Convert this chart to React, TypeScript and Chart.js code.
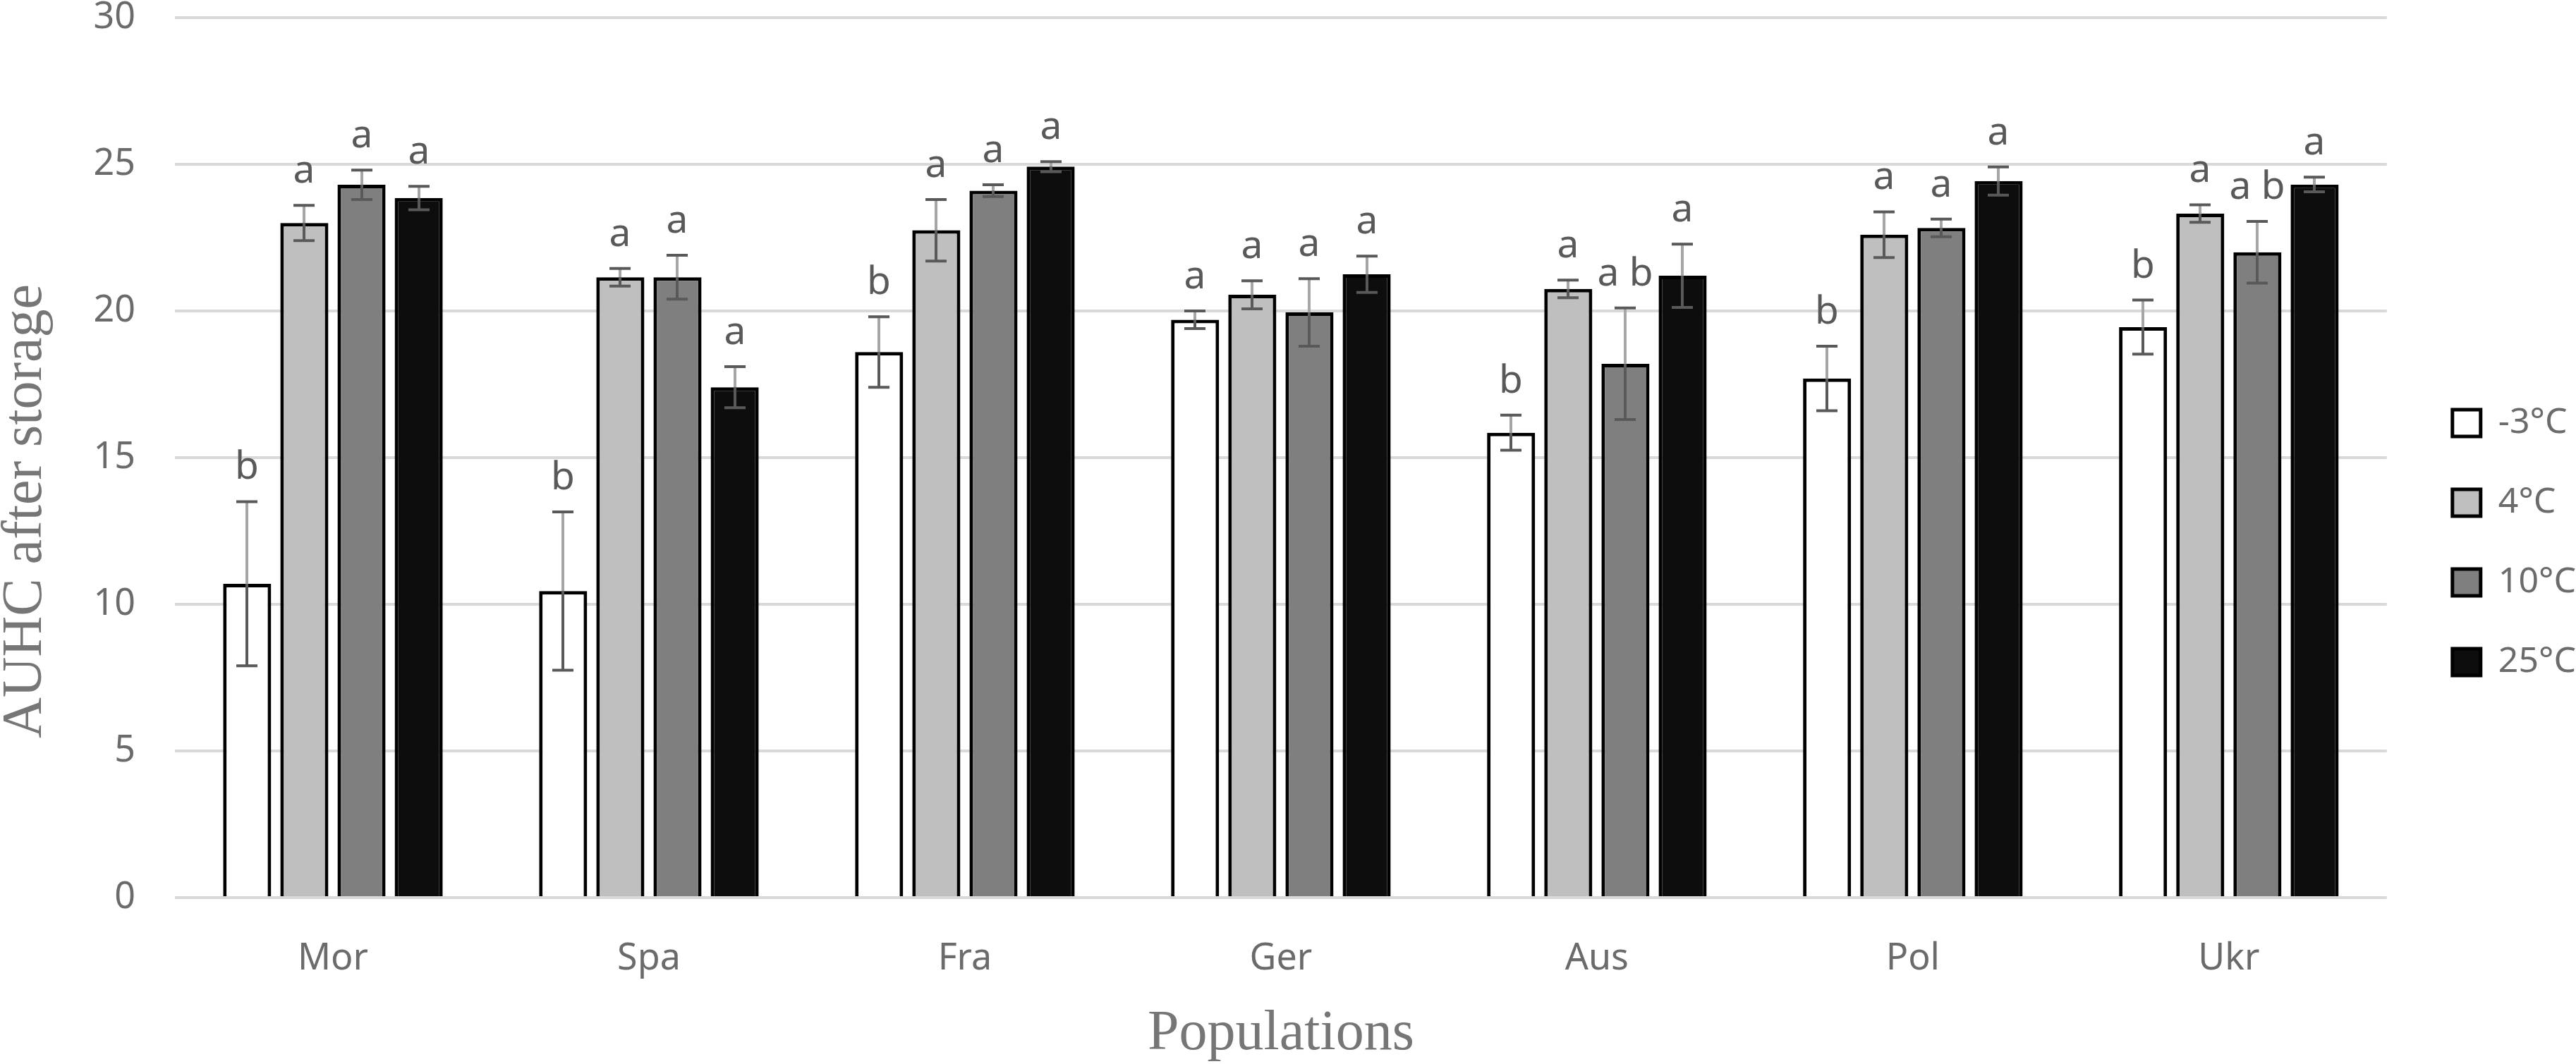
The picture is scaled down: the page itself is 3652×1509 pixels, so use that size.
import { useEffect, useRef } from "react";
import { Chart, registerables } from "chart.js";

Chart.register(...registerables);

// populations on the x axis
const categories = ["Mor", "Spa", "Fra", "Ger", "Aus", "Pol", "Ukr"];
const seriesNames = ["-3°C", "4°C", "10°C", "25°C"];

// AUHC after storage
const minus3 = [10.7, 10.45, 18.6, 19.7, 15.85, 17.7, 19.45];
const plus4 = [23.0, 21.15, 22.75, 20.55, 20.75, 22.6, 23.32];
const plus10 = [24.3, 21.15, 24.1, 19.95, 18.2, 22.83, 22.0];
const plus25 = [23.85, 17.4, 24.92, 21.25, 21.2, 24.43, 24.31];

// error bar half widths
const err3 = [2.8, 2.7, 1.2, 0.3, 0.6, 1.1, 0.92];
const err4 = [0.6, 0.3, 1.05, 0.48, 0.3, 0.78, 0.3];
const err10 = [0.5, 0.75, 0.2, 1.15, 1.9, 0.3, 1.05];
const err25 = [0.4, 0.7, 0.17, 0.62, 1.08, 0.48, 0.25];

// significance letters
const let3 = ["b", "b", "b", "a", "b", "b", "b"];
const let4 = ["a", "a", "a", "a", "a", "a", "a"];
const let10 = ["a", "a", "a", "a", "a b", "a", "a b"];
const let25 = ["a", "a", "a", "a", "a", "a", "a"];

const yTicks = [0, 5, 10, 15, 20, 25, 30];

const seriesValues = [minus3, plus4, plus10, plus25];
const seriesErrors = [err3, err4, err10, err25];
const seriesLetters = [let3, let4, let10, let25];
const fills = ["#ffffff", "#bfbfbf", "#7f7f7f", "#0d0d0d"];

const SANS = "'Noto Sans', 'Open Sans', sans-serif";
const SERIF = "'Liberation Serif', 'DejaVu Serif', serif";

const overlay = {
  id: "overlay",
  afterLayout(chart: any) {
    // nudge the legend to where Excel put it
    const lg = chart.legend;
    if (lg) {
      lg.left += 30;
      lg.right += 30;
      lg.top += 30;
    }
  },
  afterDatasetsDraw(chart: any) {
    const ctx = chart.ctx as CanvasRenderingContext2D;
    const y = chart.scales.y;
    ctx.save();
    seriesValues.forEach((vals, di) => {
      const meta = chart.getDatasetMeta(di);
      meta.data.forEach((bar: any, i: number) => {
        const v = vals[i];
        const e = seriesErrors[di][i];
        const x = Math.round(bar.x);
        const yv = y.getPixelForValue(v);
        const yTop = y.getPixelForValue(v + e);
        const yBot = y.getPixelForValue(v - e);
        ctx.lineWidth = 4;
        ctx.lineCap = "butt";
        // plus part, lighter
        ctx.strokeStyle = "#a6a6a6";
        ctx.beginPath();
        ctx.moveTo(x, yv);
        ctx.lineTo(x, yTop);
        ctx.stroke();
        // minus part and caps
        ctx.strokeStyle = "#595959";
        ctx.beginPath();
        ctx.moveTo(x, yv);
        ctx.lineTo(x, yBot);
        ctx.moveTo(x - 15, yTop);
        ctx.lineTo(x + 15, yTop);
        ctx.moveTo(x - 15, yBot);
        ctx.lineTo(x + 15, yBot);
        ctx.stroke();
        // letter above
        ctx.fillStyle = "#595959";
        ctx.font = `55px ${SANS}`;
        ctx.textAlign = "center";
        ctx.textBaseline = "alphabetic";
        ctx.fillText(seriesLetters[di][i], x, yTop - 32);
      });
    });
    // y axis title
    ctx.translate(37, 725);
    ctx.rotate(-Math.PI / 2);
    ctx.fillStyle = "#767676";
    ctx.font = `80px ${SERIF}`;
    ctx.textAlign = "center";
    ctx.textBaseline = "middle";
    ctx.fillText("AUHC after storage", 0, 0);
    ctx.restore();
  },
};

export default function App() {
  const chartRef = useRef<HTMLCanvasElement>(null);
  const chartInstance = useRef<Chart | null>(null);

  useEffect(() => {
    if (!chartRef.current) return;
    if (chartInstance.current) chartInstance.current.destroy();

    const datasets = seriesValues.map((vals, i) => ({
      label: seriesNames[i],
      data: vals,
      backgroundColor: fills[i],
      borderColor: "#000000",
      borderWidth: 5,
      categoryPercentage: 0.724,
      barPercentage: 0.84,
    }));

    chartInstance.current = new Chart(chartRef.current, {
      type: "bar",
      data: { labels: categories, datasets },
      plugins: [overlay],
      options: {
        animation: false,
        responsive: true,
        maintainAspectRatio: false,
        devicePixelRatio: 1,
        layout: { padding: { top: 0, left: 0, bottom: 0, right: 20 } },
        plugins: {
          tooltip: { enabled: false },
          legend: {
            position: "right",
            labels: {
              boxWidth: 40,
              boxHeight: 38,
              padding: 63,
              color: "#6b6b6b",
              font: { family: SANS, size: 50 },
            },
          },
        },
        scales: {
          x: {
            grid: { display: false },
            border: { display: false },
            ticks: {
              color: "#6b6b6b",
              padding: 53,
              font: { family: SANS, size: 52, lineHeight: 1 },
            },
            title: {
              display: true,
              text: "Populations",
              color: "#767676",
              font: { family: SERIF, size: 80, lineHeight: 1 },
              padding: { top: 0, bottom: 2 },
            },
            afterFit: (scale: any) => {
              scale.height = 236;
            },
          },
          y: {
            min: 0,
            max: 30,
            afterBuildTicks: (scale: any) => {
              scale.ticks = yTicks.map((v) => ({ value: v }));
            },
            grid: { color: "#d9d9d9", lineWidth: 4, drawTicks: false },
            border: { display: false },
            ticks: {
              color: "#6b6b6b",
              padding: 56,
              font: { family: SANS, size: 52, lineHeight: 1 },
            },
            afterFit: (scale: any) => {
              scale.width = 248;
              scale.paddingTop = 25;
              scale.paddingBottom = 25;
            },
          },
        },
      },
    });

    return () => {
      if (chartInstance.current) {
        chartInstance.current.destroy();
        chartInstance.current = null;
      }
    };
  }, []);

  return (
    <div style={{ position: "fixed", left: 0, top: 0, width: "100vw", height: "100vh", background: "#fff" }}>
      <canvas ref={chartRef} />
    </div>
  );
}
